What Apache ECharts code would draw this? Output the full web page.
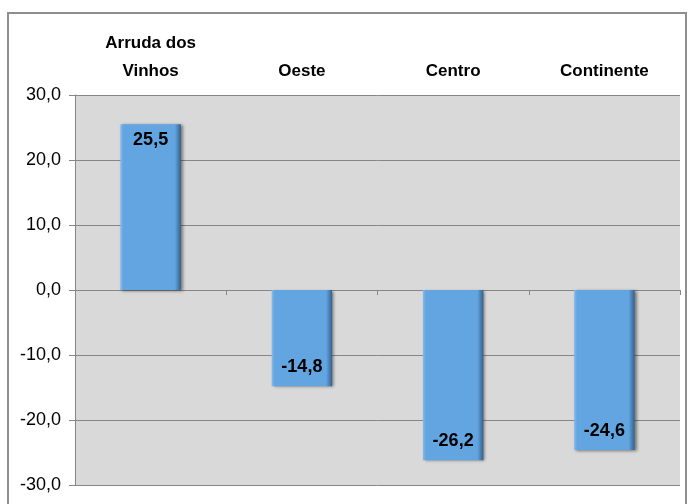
<!DOCTYPE html>
<html>
<head>
<meta charset="utf-8">
<script src="https://cdn.jsdelivr.net/npm/echarts@6/dist/echarts.min.js"></script>
<style>
  html, body { margin: 0; padding: 0; background: #fff; }
  #myChart { width: 694px; height: 504px; }
</style>
</head>
<body>
<div id="myChart"></div>
<script>
// categorias e valores (variação, %)
var categories = ['Arruda dos\nVinhos', 'Oeste', 'Centro', 'Continente']
var values = [25.5, -14.8, -26.2, -24.6]
var yTicks = { min: -30, max: 30, interval: 10 }

function fmt (v) {
  return Number(v).toFixed(1).replace('.', ',')
}

var myChart = echarts.init(document.getElementById('myChart'))

var barColor = new echarts.graphic.LinearGradient(0, 0, 1, 0, [
  { offset: 0, color: '#86bbea' },
  { offset: 0.05, color: '#62a5e1' },
  { offset: 0.9, color: '#62a5e1' },
  { offset: 1, color: '#34618d' }
])

var narrow = 'Liberation Sans Narrow, Arial Narrow, Liberation Sans, Arial, sans-serif'

var option = {
  backgroundColor: '#ffffff',
  animation: false,
  textStyle: { fontFamily: 'Liberation Sans, Arial, sans-serif' },
  graphic: [{
    type: 'rect',
    shape: { x: 8, y: 13, width: 678, height: 540 },
    style: { fill: 'none', stroke: '#8e8e8e', lineWidth: 2 },
    silent: true
  }],
  grid: {
    left: 75,
    right: 14,
    top: 95,
    bottom: 19,
    show: true,
    backgroundColor: '#d9d9d9',
    borderWidth: 0
  },
  xAxis: [
    {
      type: 'category',
      data: categories,
      position: 'bottom',
      axisLine: { onZero: true, lineStyle: { color: '#868686', width: 1 } },
      axisTick: { show: true, length: 5, lineStyle: { color: '#868686' } },
      axisLabel: { show: false }
    },
    {
      type: 'category',
      data: categories,
      position: 'top',
      axisLine: { show: false },
      axisTick: { show: false },
      axisLabel: {
        margin: 10,
        color: '#000',
        fontWeight: 'bold',
        fontSize: 17,
        lineHeight: 28,
        fontFamily: narrow
      }
    }
  ],
  yAxis: {
    type: 'value',
    min: yTicks.min,
    max: yTicks.max,
    interval: yTicks.interval,
    axisLine: { show: true, lineStyle: { color: '#868686' } },
    axisTick: { show: true, length: 6, lineStyle: { color: '#868686' } },
    axisLabel: {
      color: '#000',
      fontSize: 18,
      margin: 14,
      formatter: fmt
    },
    splitLine: { show: true, lineStyle: { color: '#868686', width: 1 } }
  },
  series: [{
    type: 'bar',
    xAxisIndex: 0,
    barWidth: '40%',
    data: values.map(function (v) {
      return {
        value: v,
        label: { position: v >= 0 ? 'insideTop' : 'insideBottom', distance: v >= 0 ? 7 : 10 }
      }
    }),
    itemStyle: {
      color: barColor,
      shadowColor: 'rgba(0, 0, 0, 0.45)',
      shadowBlur: 3,
      shadowOffsetX: 2,
      shadowOffsetY: 1
    },
    label: {
      show: true,
      color: '#000',
      fontWeight: 'bold',
      fontSize: 18,
      fontFamily: narrow,
      formatter: function (p) { return fmt(p.value) }
    }
  }]
}

myChart.setOption(option)
</script>
</body>
</html>
